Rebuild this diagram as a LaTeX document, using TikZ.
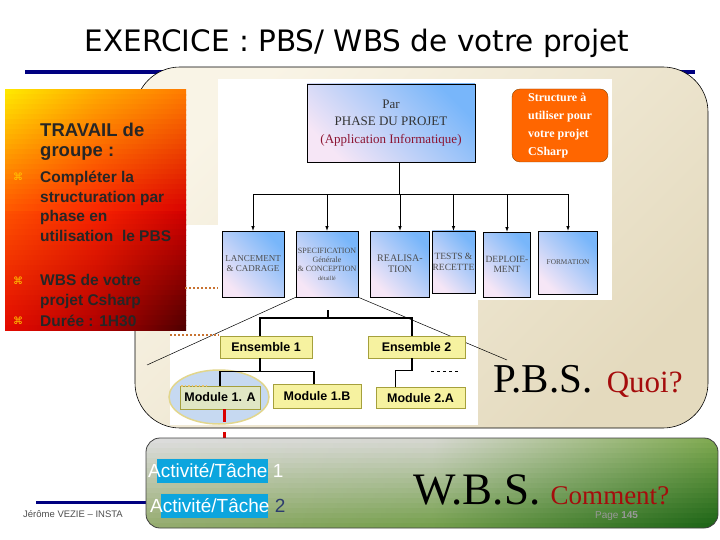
\documentclass[tikz,border=0pt]{standalone}
\usepackage{fontspec}
\setmainfont{Liberation Serif}
\newfontfamily\arial{Liberation Sans}
\newfontfamily\dejavu{DejaVu Sans}
\usetikzlibrary{positioning}

\definecolor{navy}{RGB}{0,0,128}
\definecolor{beigeA}{RGB}{249,244,230}
\definecolor{beigeB}{RGB}{228,218,190}
\definecolor{skyb}{RGB}{120,182,250}
\definecolor{lavb}{RGB}{246,230,246}
\definecolor{orangebox}{RGB}{255,102,0}
\definecolor{ensfill}{RGB}{246,242,160}
\definecolor{ensline}{RGB}{165,160,60}
\definecolor{ellfill}{RGB}{198,217,241}
\definecolor{ellline}{RGB}{226,214,140}
\definecolor{tachecyan}{RGB}{12,165,222}
\definecolor{quoired}{RGB}{165,12,12}
\definecolor{appred}{RGB}{140,20,50}
\definecolor{dotbrown}{RGB}{200,115,50}
\definecolor{puceyel}{RGB}{255,200,0}
\definecolor{deuxblue}{RGB}{45,60,110}
% degrade du cadre travail
\definecolor{travTL}{RGB}{255,232,0}
\definecolor{travTM}{RGB}{255,170,0}
\definecolor{travTR}{RGB}{255,122,0}
\definecolor{travML}{RGB}{255,85,0}
\definecolor{travMM}{RGB}{250,35,0}
\definecolor{travMR}{RGB}{215,0,0}
\definecolor{travBL}{RGB}{228,10,0}
\definecolor{travBM}{RGB}{175,0,0}
\definecolor{travBR}{RGB}{80,0,0}
% degrade du cadre WBS
\definecolor{wbsTL}{RGB}{220,220,220}
\definecolor{wbsTM}{RGB}{212,214,206}
\definecolor{wbsTR}{RGB}{125,168,78}
\definecolor{wbsBL}{RGB}{150,172,112}
\definecolor{wbsBM}{RGB}{118,160,78}
\definecolor{wbsBR}{RGB}{28,100,22}

\begin{document}
\begin{tikzpicture}[>=latex, x=1pt, y=-1pt,
  phasebox/.style={draw, line width=0.5pt, inner sep=1pt, align=center, text=black!70,
    top color=skyb, bottom color=lavb, shading angle=-45},
  ensbox/.style={draw=ensline, line width=0.8pt, fill=ensfill, inner sep=0pt,
    font=\arial\bfseries\fontsize{12.5}{14}\selectfont},
  treeline/.style={line width=1.1pt},
  dotline/.style={dotbrown, dotted, line width=2pt},
  item/.style={anchor=north west, inner sep=0pt, align=left, text=black!85,
    font=\arial\bfseries\fontsize{15.5}{19.5}\selectfont},
  puce/.style={text=puceyel, inner sep=0pt, font=\dejavu\fontsize{10}{10}\selectfont},
  tachebg/.style={fill=tachecyan, inner sep=0pt, minimum height=24},
  tachetext/.style={anchor=west, inner sep=0pt, text=white, font=\arial\fontsize{19}{21}\selectfont}]
  \useasboundingbox (0,0) rectangle (720,540);

  % titre et filets
  \node[font=\dejavu\fontsize{29.5}{32}\selectfont] (titre) at (357,43) {EXERCICE : PBS/ WBS de votre projet};
  \draw[navy, line width=3.5pt] (25,72) -- (695,72);
  \draw[navy, line width=3pt] (36,502) -- (150,502);

  % cadre PBS
  \shade[draw=black, line width=0.6pt, rounded corners=45, top color=beigeA, bottom color=beigeB, shading angle=45]
    (135,67) rectangle (708,428);
  \fill[white] (218,79) rectangle (612,300);
  \fill[white] (170,225) rectangle (478,425);

  % arbre par phase
  \node[phasebox, minimum width=168, minimum height=78, text=black!80,
    font=\fontsize{13}{17.5}\selectfont] (phase) at (391,123)
    {Par\\PHASE DU PROJET\\\textcolor{appred}{(Application Informatique)}};
  \node[draw=orange!55!black, fill=orangebox, rounded corners=8, minimum width=96, minimum height=73,
    align=left, text=white, font=\bfseries\fontsize{12}{18}\selectfont] (structure) at (560,125.5)
    {Structure à\\utiliser pour\\votre projet\\CSharp};
  \node[phasebox, minimum width=62, minimum height=66, font=\fontsize{9}{10}\selectfont] (lancement) at (253,264)
    {LANCEMENT\\\& CADRAGE};
  \node[phasebox, minimum width=62, minimum height=66, font=\fontsize{8}{9}\selectfont] (spec) at (327,264)
    {SPECIFICATION\\Générale\\\& CONCEPTION\\{\fontsize{6}{8}\selectfont détaillé}};
  \node[phasebox, minimum width=59, minimum height=66, font=\fontsize{10}{11}\selectfont] (real) at (400,264)
    {REALISA-\\TION};
  \node[phasebox, minimum width=43, minimum height=62, inner sep=0pt, font=\fontsize{9.5}{10.5}\selectfont] (tests) at (453.5,262)
    {TESTS \&\\RECETTE};
  \node[phasebox, minimum width=47, minimum height=65, font=\fontsize{9.5}{10.5}\selectfont] (deploi) at (507,264.5)
    {DEPLOIE-\\MENT};
  \node[phasebox, minimum width=59, minimum height=63, font=\fontsize{7.3}{9}\selectfont] (form) at (568,262.5)
    {FORMATION};
  \coordinate (bus) at (399,194);
  \draw[line width=0.6pt] (phase.south -| bus) -- (bus);
  \foreach \c in {lancement,spec,real,tests,deploi,form}
    \draw[->, line width=0.6pt] (bus) -| (\c.north);

  % loupe
  \coordinate (loupeG) at (147,365);
  \coordinate (loupeD) at (507,360);
  \draw[line width=0.5pt] (spec.south west) -- (loupeG);
  \draw[line width=0.5pt] (spec.south east) -- (loupeD);

  % travail de groupe
  \begin{scope}
    \clip (5,90) rectangle (186,330);
    \foreach \i in {0,...,23} {
      \pgfmathtruncatemacro\v{100*\i/24}
      \colorlet{rangG}{travML!\v!travTL}
      \colorlet{rangM}{travMM!\v!travTM}
      \colorlet{rangD}{travMR!\v!travTR}
      \shade[left color=rangG, right color=rangD, middle color=rangM] (5,{90+5*\i}) rectangle (186,{95.6+5*\i});
      \pgfmathtruncatemacro\w{100*(\i+1)/24}
      \colorlet{rangG}{travBL!\w!travML}
      \colorlet{rangM}{travBM!\w!travMM}
      \colorlet{rangD}{travBR!\w!travMR}
      \shade[left color=rangG, right color=rangD, middle color=rangM] (5,{210+5*\i}) rectangle (186,{215.6+5*\i});
    }
  \end{scope}
  \node[minimum width=181, minimum height=240, inner sep=0pt] (travail) at (95.5,210) {};
  \node[item, font=\arial\bfseries\fontsize{18.5}{20}\selectfont] (groupe) at (40,123) {TRAVAIL de\\groupe :};
  \node[puce] (puce1) at (18,177) {⌘};
  \node[item] (consigne1) at (40,171) {Compléter la\\structuration par\\phase en\\utilisation\ \ le PBS};
  \node[puce] (puce2) at (18,281) {⌘};
  \node[item] (consigne2) at (40,274.5) {WBS de votre\\projet Csharp};
  \node[puce] (puce3) at (18,321) {⌘};
  \node[item] (consigne3) at (40,314.5) {Durée : 1H30};
  \coordinate (pointA) at (185,288);
  \coordinate (pointB) at (218,288);
  \coordinate (pointC) at (170,335);
  \coordinate (pointD) at (219,335);
  \draw[dotline] (pointA) -- (pointB);
  \draw[dotline] (pointC) -- (pointD);

  % ensembles et modules
  \fill[ellfill, draw=ellline, line width=1.5pt] (219,397) ellipse [x radius=50, y radius=27];
  \node[ensbox, minimum width=92, minimum height=22] (ens1) at (266,347) {Ensemble 1};
  \node[ensbox, minimum width=97, minimum height=22] (ens2) at (416.5,347) {Ensemble 2};
  \node[ensbox, fill opacity=0.55, text opacity=1, minimum width=80, minimum height=23] (mod1a) at (220,397.5) {Module 1. A};
  \node[ensbox, minimum width=88, minimum height=24] (mod1b) at (317,396) {Module 1.B};
  \node[ensbox, minimum width=89, minimum height=21] (mod2a) at (420.5,398) {Module 2.A};
  \coordinate (racine) at (328,310);
  \coordinate (bus0) at (328,318);
  \draw[treeline] (racine) -- (bus0) -| ([xshift=-6pt]ens1.north);
  \draw[treeline] (bus0) -| ([xshift=-4.5pt]ens2.north);
  \draw[treeline] ([xshift=-6pt]ens1.south) -- ++(0,13) coordinate (bus1);
  \draw[treeline] (mod1a.north) |- (bus1) -| ([xshift=-3pt]mod1b.north);
  \draw[treeline] ([xshift=-4.5pt]ens2.south) -- ++(0,12) coordinate (bus2) -| ([xshift=-25pt]mod2a.north);
  \coordinate (tiretA) at (431,371);
  \coordinate (tiretB) at (458,371);
  \draw[dashed, line width=0.6pt] (tiretA) -- (tiretB);
  \coordinate (orA) at (181,386);
  \coordinate (orB) at (206,386);
  \draw[ellline!80!orange, dotted, line width=1.5pt] (orA) -- (orB);
  \coordinate (rougeFin) at (224,447);
  \draw[red!85!black, line width=3pt, dash pattern=on 13pt off 10pt] ([xshift=4pt]mod1a.south) -- (rougeFin);

  % PBS
  \node[anchor=base west, inner sep=0pt, font=\fontsize{41}{41}\selectfont] (pbs) at (493,392) {P.B.S.};
  \node[base right=14pt of pbs, inner sep=0pt, text=quoired, font=\fontsize{31}{31}\selectfont] (quoi) {Quoi?};

  % WBS
  \begin{scope}
    \clip[rounded corners=14] (146,438) rectangle (718,528);
    \foreach \i in {0,...,17} {
      \pgfmathtruncatemacro\v{100*\i/17}
      \colorlet{rangG}{wbsBL!\v!wbsTL}
      \colorlet{rangM}{wbsBM!\v!wbsTM}
      \colorlet{rangD}{wbsBR!\v!wbsTR}
      \shade[left color=rangG, right color=rangD, middle color=rangM] (146,{438+5*\i}) rectangle (718,{443.6+5*\i});
    }
  \end{scope}
  \node[draw=black!75, line width=0.8pt, rounded corners=14, minimum width=572, minimum height=90] (wbsbox) at (432,483) {};
  \node[tachebg, minimum width=111] (fond1) at (212.5,471) {};
  \node[tachetext] (tache1) at (148,471) {Activité/Tâche 1};
  \node[tachebg, minimum width=107] (fond2) at (214.5,506) {};
  \node[tachetext] (tache2) at (150,506) {Activité/Tâche \textcolor{deuxblue}{2}};
  \node[anchor=base west, inner sep=0pt, font=\fontsize{45}{45}\selectfont] (wbs) at (413,504) {W.B.S.};
  \node[base right=10pt of wbs, inner sep=0pt, text=quoired, font=\fontsize{27}{27}\selectfont] (comment) {Comment?};
  \node[anchor=west, inner sep=0pt, text=black!40, font=\arial\fontsize{10}{12}\selectfont] (page) at (595,516) {Page \textbf{145}};
  \node[anchor=west, inner sep=0pt, text=black!70, font=\arial\fontsize{9.5}{11}\selectfont] (auteur) at (23,514) {Jérôme VEZIE – INSTA};
\end{tikzpicture}
\end{document}
